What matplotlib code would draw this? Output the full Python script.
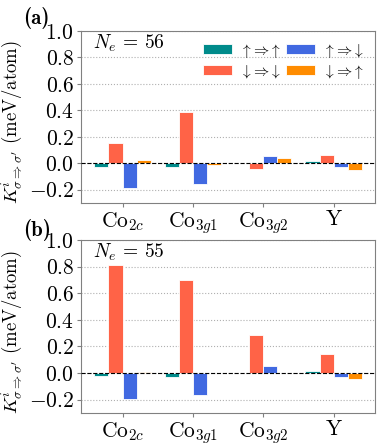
import numpy as np
import matplotlib
matplotlib.use("Agg")
import matplotlib.pyplot as plt

plt.rcParams['font.family'] = 'serif'
plt.rcParams['font.serif'] = ['cmr10']
plt.rcParams['mathtext.fontset'] = 'cm'
plt.rcParams['axes.formatter.use_mathtext'] = True
plt.rcParams['font.size'] = 15.5

# Data
sites = [r'Co$_{2c}$', r'Co$_{3g1}$', r'Co$_{3g2}$', 'Y']
channels = [r'$\uparrow\!\Rightarrow\!\uparrow$', r'$\downarrow\!\Rightarrow\!\downarrow$',
            r'$\uparrow\!\Rightarrow\!\downarrow$', r'$\downarrow\!\Rightarrow\!\uparrow$']
colors = ['#008B8B', '#FF6347', '#4169E1', '#FF8C00']

# order: up-up, down-down, up-down, down-up
k_ne56 = [
    [-0.028, -0.025, 0.0, 0.015],
    [0.153, 0.39, -0.045, 0.065],
    [-0.19, -0.155, 0.058, -0.03],
    [0.023, -0.012, 0.04, -0.05],
]
k_ne55 = [
    [-0.025, -0.03, 0.0, 0.015],
    [0.81, 0.70, 0.287, 0.14],
    [-0.197, -0.165, 0.055, -0.03],
    [0.008, 0.0, 0.003, -0.043],
]

fig = plt.figure(figsize=(3.82, 4.47), dpi=100)
ax_a = fig.add_axes([0.212, 0.546, 0.770, 0.385])
ax_b = fig.add_axes([0.212, 0.076, 0.770, 0.387])

x = np.arange(len(sites))
width = 0.2
offsets = [-0.3, -0.1, 0.1, 0.3]

for ax, data, ne in [(ax_a, k_ne56, 56), (ax_b, k_ne55, 55)]:
    for vals, off, col, lab in zip(data, offsets, colors, channels):
        ax.bar(x + off, vals, width, color=col, edgecolor='white', linewidth=0.6,
               label=lab, zorder=3)
    ax.axhline(0, color='black', ls='--', lw=0.8, zorder=4)
    ax.set_ylim(-0.3, 1.0)
    ax.set_yticks([-0.2, 0.0, 0.2, 0.4, 0.6, 0.8, 1.0])
    ax.yaxis.grid(True, ls=':', color='#b0b0b0', lw=0.8, zorder=0)
    ax.set_xticks(x)
    ax.set_xticklabels(sites)
    for s in ax.spines.values():
        s.set_color('#808080')
    ax.tick_params(color='#808080', length=3, pad=2)
    ax.set_ylabel(r'$K^{i}_{\sigma\Rightarrow\sigma^{\prime}}$ (meV/atom)', fontsize=13.5)
    ax.yaxis.set_label_coords(-0.19, 0.47)
    ax.text(0.04, 0.93, r'$N_e$ = %d' % ne, transform=ax.transAxes,
            ha='left', va='center', fontsize=14)

fig.text(0.06, 1 - 18 / 447, '(a)', family='cmb10', fontsize=15, ha='left', va='center')
fig.text(0.06, 1 - 230 / 447, '(b)', family='cmb10', fontsize=15, ha='left', va='center')

ax_a.legend(ncol=2, loc='upper right', frameon=False, fontsize=11,
            handlelength=1.9, handleheight=0.65, columnspacing=0.3,
            handletextpad=0.55, labelspacing=0.2, borderaxespad=0.3)

fig.savefig('out.png', dpi=100)
